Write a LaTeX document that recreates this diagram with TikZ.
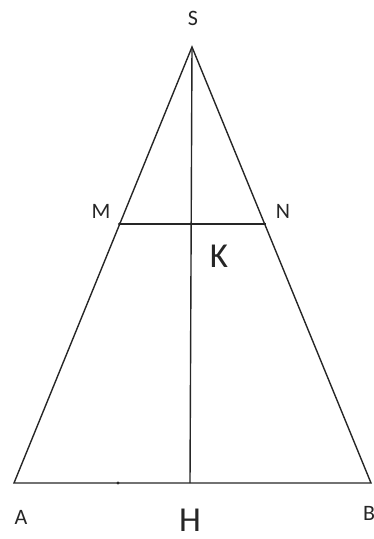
\documentclass[tikz,border=0pt]{standalone}
\usepackage{fontspec}
\setmainfont{Carlito}
\begin{document}
\begin{tikzpicture}[x=1pt,y=-1pt,
  seg/.style={line width=1.4pt,draw=black!85},
  small/.style={font=\fontsize{22}{22}\selectfont,text=black!85,inner sep=0pt},
  big/.style={font=\fontsize{35}{35}\selectfont,text=black!85,inner sep=0pt}]
\useasboundingbox (0,0) rectangle (374,539);
\coordinate (S) at (192,47);
\coordinate (A) at (14,483);
\coordinate (B) at (371,483);
\coordinate (H) at (190,483);
\coordinate (M) at (119.5,224);
\coordinate (N) at (266,224);
\coordinate (K) at (190.7,224);
\coordinate (D) at (118,483);
\draw[seg,line join=miter] (A) -- (S) -- (B) -- cycle;
\draw[seg] (S) -- (H);
\draw[seg] (M) -- (N);
\fill[black!85] (D) circle (1.6pt);
\fill[black!85] (M) circle (1.6pt);
\node[small] (lS) at (193,18) {S};
\node[small] (lM) at (101,211) {M};
\node[small] (lN) at (283,211) {N};
\node[big] (lK) at (219,256) {K};
\node[small] (lA) at (21,517) {A};
\node[big] (lH) at (190,520) {H};
\node[small,anchor=west] (lB) at (363,513) {B};
\end{tikzpicture}
\end{document}
